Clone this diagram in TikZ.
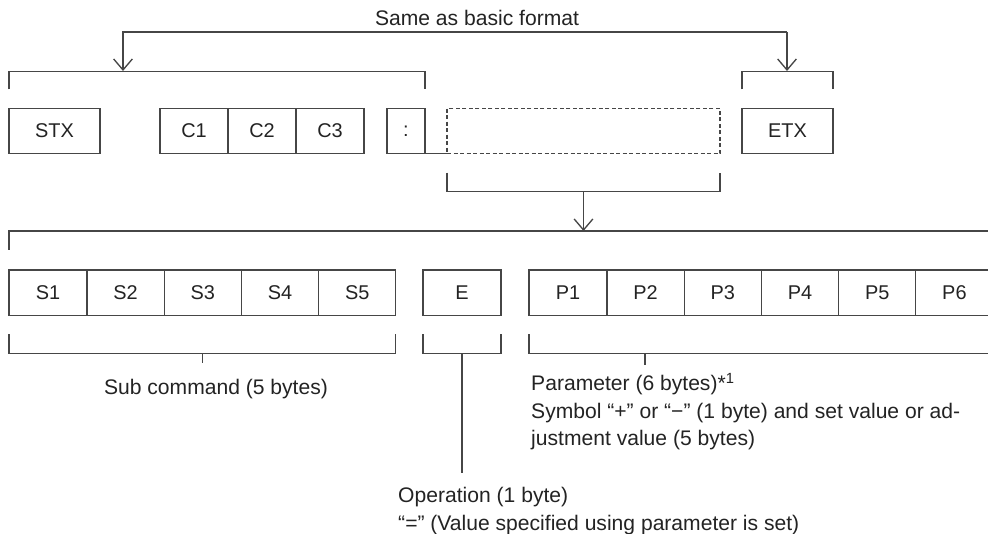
\documentclass[tikz,border=0pt]{standalone}
\usepackage{fontspec}
\setmainfont{Liberation Sans}
\usetikzlibrary{positioning,arrows.meta}
\definecolor{linegray}{RGB}{70,70,70}
\definecolor{textgray}{RGB}{35,35,35}
\tikzset{
  cell/.style={draw=linegray,line width=0.4mm,minimum height=13.6mm,minimum width=23.16mm,
    inner sep=0pt,outer sep=0pt,text=textgray,font=\fontsize{17}{20}\selectfont},
  brk/.style={draw=linegray,line width=0.4mm},
  note/.style={text=textgray,font=\fontsize{18}{23.5}\selectfont,inner sep=0pt,align=left},
  arr/.style={-{Straight Barb[length=3.3mm,width=5.6mm,line width=0.4mm]}}
}
\begin{document}
\begin{tikzpicture}[x=0.3mm,y=-0.3mm,line cap=butt,line join=miter]
  \useasboundingbox (0,0) rectangle (988,533);
  \clip (0,0) rectangle (988,533);
  % basic format row
  \node[cell,minimum width=27.3mm] (stx) at (54.5,131) {STX};
  \node[cell,minimum width=20.4mm] (c1) at (194,131) {C1};
  \node[cell,minimum width=20.4mm,right=0pt of c1] (c2) {C2};
  \node[cell,minimum width=20.4mm,right=0pt of c2] (c3) {C3};
  \node[cell,minimum width=11.4mm] (colon) at (406,131) {:};
  \node[cell,minimum width=81.9mm,dash pattern=on 1.2mm off 0.75mm] (data) at (583.5,131) {};
  \node[cell,minimum width=27.3mm] (etx) at (787.5,131) {ETX};
  \draw[brk] (colon.south east) -- (data.south west);
  % same as basic format
  \node[note,anchor=base] (same) at (477,25) {Same as basic format};
  \coordinate (topL) at (123,32);
  \coordinate (topR) at (787,32);
  \coordinate (hdT) at (123,71);
  \coordinate (etxT) at (787,71);
  \draw[brk,arr] (topR) -- (topL) -- (hdT);
  \draw[brk,arr] (topR) -- (etxT);
  \draw[brk] ([yshift=5.7mm]stx.north west) -- ([yshift=11.1mm]stx.north west)
    -| ([yshift=5.7mm]colon.north east);
  \draw[brk] ([yshift=5.7mm]etx.north west) -- ([yshift=11.1mm]etx.north west)
    -| ([yshift=5.7mm]etx.north east);
  % data part
  \draw[brk] ([yshift=-5.7mm]data.south west) -- ([yshift=-11.4mm]data.south west)
    -| ([yshift=-5.7mm]data.south east);
  \coordinate (dataB) at ([yshift=-11.4mm]data.south);
  \coordinate (bigT) at (583.5,231);
  \draw[brk,arr] (dataB) -- (bigT);
  % expanded row
  \node[cell,minimum width=23.4mm] (s1) at (48,292.5) {S1};
  \node[cell,right=0pt of s1] (s2) {S2};
  \node[cell,right=0pt of s2] (s3) {S3};
  \node[cell,right=0pt of s3] (s4) {S4};
  \node[cell,right=0pt of s4] (s5) {S5};
  \node[cell,minimum width=23.4mm] (e) at (462,292.5) {E};
  \node[cell,minimum width=23.4mm] (p1) at (568,292.5) {P1};
  \node[cell,right=0pt of p1] (p2) {P2};
  \node[cell,right=0pt of p2] (p3) {P3};
  \node[cell,right=0pt of p3] (p4) {P4};
  \node[cell,right=0pt of p4] (p5) {P5};
  \node[cell,right=0pt of p5] (p6) {P6};
  \draw[brk] ([yshift=6mm]s1.north west) -- ([yshift=11.7mm]s1.north west)
    -| ([yshift=6mm]p6.north east);
  % brackets below
  \draw[brk] ([yshift=-5.7mm]s1.south west) -- ([yshift=-11.4mm]s1.south west)
    -| ([yshift=-5.7mm]s5.south east);
  \draw[brk] ([yshift=-11.4mm]s3.south) -- ++(0,10);
  \draw[brk] ([yshift=-5.7mm]e.south west) -- ([yshift=-11.4mm]e.south west)
    -| ([yshift=-5.7mm]e.south east);
  \coordinate (opB) at (462,473);
  \draw[brk] ([yshift=-11.4mm]e.south) -- (opB);
  \draw[brk] ([yshift=-5.7mm]p1.south west) -- ([yshift=-11.4mm]p1.south west)
    -| ([yshift=-5.7mm]p6.south east);
  \coordinate (parT) at (645,353);
  \draw[brk] (parT) -- ++(0,12);
  % labels
  \node[note,anchor=base] (sub) at (216,394) {Sub command (5 bytes)};
  \node[note,anchor=north west] (par) at (531,373)
    {Parameter (6 bytes)*\textsuperscript{1}\\
     Symbol “+” or “−” (1 byte) and set value or ad-\\
     justment value (5 bytes)};
  \node[note,anchor=north west] (op) at (398,487)
    {Operation (1 byte)\\
     “=” (Value specified using parameter is set)};
\end{tikzpicture}
\end{document}
